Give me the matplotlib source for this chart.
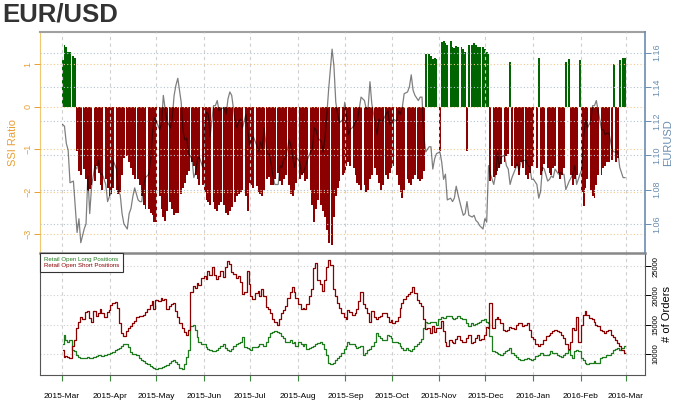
import pandas as pd
import numpy as np
import matplotlib
matplotlib.use('Agg')
import matplotlib.pyplot as plt
import matplotlib.dates as mdates
from matplotlib.lines import Line2D

plt.rcParams['font.family'] = ['Liberation Sans', 'DejaVu Sans']

# one row per trading week (sun evening -> fri), first week starts 2015-03-01
ssi = [
    [1.1, 1.45, 1.4, 1.3, 1.28], [1.2, 1.15, -1.05, -1.5, -1.6], [-1.47, -1.7, -1.97, -1.93, -1.85],
    [-1.75, -1.4, -1.55, -1.85, -1.95], [-1.7, -1.9, -2.1, -2.05, -1.9], [-1.95, -2.05, -2.0, -1.6, -1.2],
    [-1.15, -1.3, -1.45, -1.6, -1.7], [-1.7, -1.85, -2.1, -2.3, -2.4], [-2.4, -2.5, -2.55, -2.7, -2.72],
    [-2.1, -2.4, -2.6, -2.68, -2.45], [-2.25, -2.4, -2.55, -2.5, -2.5], [-2.05, -1.9, -1.8, -1.6, -1.5],
    [-1.3, -1.4, -1.6, -1.7, -1.85], [-1.85, -2.0, -2.2, -2.25, -2.3], [-2.25, -2.4, -2.45, -2.3, -2.25],
    [-2.3, -2.5, -2.55, -2.45, -2.35], [-2.25, -2.1, -2.05, -2.0, -1.95], [-2.1, -2.45, -1.8, -1.85, -1.9],
    [-1.87, -2.0, -2.05, -2.1, -1.95], [-1.7, -1.65, -1.85, -1.85, -1.7], [-1.55, -1.75, -1.85, -1.7, -1.6],
    [-1.85, -2.05, -2.1, -1.95, -1.8], [-1.7, -1.6, -1.55, -1.75, -1.7], [-1.95, -2.3, -2.7, -2.4, -2.2],
    [-2.3, -2.45, -2.6, -2.9, -3.2], [-3.25, -2.6, -2.1, -1.9, -1.75], [-1.6, -1.55, -1.4, -1.3, -1.4],
    [-1.45, -1.6, -1.8, -1.85, -1.95], [-1.85, -2.0, -1.95, -1.7, -1.6], [-1.45, -1.6, -1.8, -1.95, -1.85],
    [-1.6, -1.7, -1.55, -1.45, -1.4], [-1.6, -1.85, -2.0, -2.15, -1.95], [-1.7, -1.8, -1.85, -1.7, -1.6],
    [-1.7, -1.75, -1.7, -1.5, 1.25], [1.24, 1.2, 1.13, 1.15, 1.12], [-1.05, 1.52, 1.55, 1.5, 1.45],
    [1.55, 1.4, 1.38, 1.42, 1.4], [1.4, 1.35, 1.3, -1.05, 1.45], [1.45, 1.5, 1.45, 1.4, 1.4],
    [1.4, 1.35, 1.3, 1.25, -1.75], [-1.65, -1.6, -1.5, -1.45, -1.35], [-1.3, -1.15, -1.1, 1.05, -1.4],
    [-1.45, -1.4, -1.6, -1.3, -1.45], [-1.6, -1.7, -1.55, -1.4, -1.3], [-1.45, 1.15, -1.6, -1.5, -1.35],
    [-1.45, -1.55, -1.6, -1.45, -1.4], [-1.55, -1.7, -1.6, -1.45, 1.05], [1.12, -1.6, -1.85, -1.7, -1.6],
    [1.1, -2.0, -2.33, -1.9, -1.7], [-1.95, -2.1, -2.15, -1.85, -1.6], [-1.6, -1.45, -1.4, -1.3, -1.3],
    [-1.25, 1.0, -1.3, -1.2, 1.1], [1.15, 1.15],
]

eurusd = [
    [1.118, 1.117, 1.107, 1.103, 1.084], [1.085, 1.070, 1.055, 1.063, 1.049], [1.057, 1.060, 1.088, 1.066, 1.082],
    [1.094, 1.092, 1.097, 1.089, 1.089], [1.083, 1.073, 1.076, 1.078, 1.097], [1.092, 1.079, 1.077, 1.066, 1.060],
    [1.057, 1.066, 1.069, 1.076, 1.081], [1.074, 1.073, 1.073, 1.082, 1.087], [1.089, 1.098, 1.113, 1.122, 1.120],
    [1.115, 1.118, 1.135, 1.127, 1.120], [1.116, 1.122, 1.135, 1.141, 1.145], [1.131, 1.114, 1.109, 1.110, 1.101],
    [1.098, 1.087, 1.090, 1.098, 1.099], [1.093, 1.115, 1.125, 1.124, 1.111], [1.129, 1.129, 1.132, 1.126, 1.127],
    [1.128, 1.124, 1.133, 1.137, 1.135], [1.120, 1.116, 1.120, 1.121, 1.116], [1.124, 1.115, 1.106, 1.109, 1.111],
    [1.106, 1.102, 1.108, 1.104, 1.116], [1.100, 1.101, 1.095, 1.088, 1.083], [1.083, 1.094, 1.093, 1.098, 1.098],
    [1.109, 1.106, 1.099, 1.093, 1.099], [1.096, 1.089, 1.090, 1.093, 1.097], [1.102, 1.104, 1.116, 1.115, 1.110],
    [1.108, 1.102, 1.110, 1.124, 1.139], [1.162, 1.152, 1.131, 1.124, 1.119], [1.121, 1.131, 1.123, 1.112, 1.115],
    [1.117, 1.120, 1.120, 1.127, 1.134], [1.132, 1.127, 1.128, 1.143, 1.130], [1.119, 1.112, 1.121, 1.120, 1.120],
    [1.124, 1.126, 1.118, 1.120, 1.121], [1.120, 1.126, 1.124, 1.128, 1.136], [1.137, 1.140, 1.147, 1.138, 1.135],
    [1.132, 1.134, 1.134, 1.111, 1.102], [1.105, 1.105, 1.092, 1.098, 1.101], [1.102, 1.096, 1.086, 1.089, 1.074],
    [1.075, 1.073, 1.075, 1.082, 1.077], [1.069, 1.065, 1.066, 1.073, 1.065], [1.064, 1.065, 1.062, 1.061, 1.059],
    [1.057, 1.063, 1.061, 1.094, 1.089], [1.083, 1.089, 1.102, 1.093, 1.099], [1.100, 1.094, 1.092, 1.083, 1.087],
    [1.092, 1.095, 1.091, 1.096, 1.097], [1.097, 1.094, 1.093, 1.086, 1.086], [1.083, 1.075, 1.079, 1.093, 1.092],
    [1.085, 1.086, 1.088, 1.087, 1.092], [1.089, 1.090, 1.089, 1.089, 1.080], [1.085, 1.087, 1.089, 1.094, 1.083],
    [1.089, 1.092, 1.111, 1.121, 1.116], [1.120, 1.129, 1.129, 1.132, 1.126], [1.115, 1.115, 1.112, 1.113, 1.113],
    [1.103, 1.102, 1.102, 1.102, 1.093], [1.087, 1.087],
]

# retail open positions, thousands of orders
longs = [
    [11.6, 13.3, 12.4, 12.0, 12.4], [10.7, 10.4, 9.8, 9.5, 9.3], [9.3, 9.3, 9.4, 9.3, 9.3],
    [9.5, 9.7, 9.8, 9.8, 9.7], [9.8, 9.9, 10.0, 10.1, 10.3], [10.6, 10.8, 11.0, 11.3, 11.6],
    [11.7, 11.1, 10.3, 9.9, 10.0], [9.8, 9.3, 9.0, 8.7, 8.5], [8.3, 8.0, 7.7, 7.5, 7.4],
    [7.5, 7.6, 7.8, 7.9, 8.1], [8.4, 8.7, 9.0, 8.6, 8.3], [7.5, 7.4, 8.3, 9.5, 10.6],
    [14.7, 15.0, 14.1, 12.9, 12.1], [11.7, 11.6, 11.2, 10.9, 10.7], [10.5, 10.5, 10.7, 11.0, 11.3],
    [11.7, 11.0, 10.6, 10.4, 10.8], [11.4, 11.6, 11.8, 12.1, 12.9], [11.2, 11.0, 10.8, 10.7, 11.2],
    [11.2, 11.4, 11.7, 11.6, 11.3], [12.1, 12.9, 13.5, 13.8, 13.9], [13.8, 13.5, 13.1, 12.7, 12.1],
    [12.1, 12.4, 11.8, 12.1, 11.4], [12.0, 11.6, 11.3, 11.6, 10.8], [11.0, 11.2, 11.3, 11.6, 11.8],
    [12.0, 11.7, 10.8, 9.8, 8.5], [8.2, 8.5, 9.0, 9.3, 9.7], [10.1, 10.8, 11.4, 12.0, 11.6],
    [11.7, 11.4, 11.0, 11.2, 11.3], [9.8, 10.1, 10.6, 10.8, 11.3], [12.0, 13.6, 13.1, 12.7, 12.3],
    [12.4, 13.3, 13.1, 12.7, 12.1], [12.0, 11.8, 11.4, 11.0, 10.7], [11.0, 10.7, 10.4, 10.8, 11.4],
    [11.6, 12.0, 12.5, 14.4, 15.5], [15.3, 15.5, 15.5, 15.4, 15.0], [15.9, 16.3, 16.1, 16.2, 16.4],
    [16.4, 16.2, 15.9, 16.2, 16.4], [16.2, 16.0, 15.9, 15.3, 14.7], [15.2, 15.0, 15.1, 15.3, 15.4],
    [15.8, 15.9, 15.4, 15.2, 13.0], [10.4, 10.3, 10.1, 10.0, 9.8], [10.1, 10.4, 10.7, 11.0, 10.2],
    [9.8, 9.4, 9.2, 9.0, 9.0], [9.1, 9.3, 9.1, 9.0, 9.1], [9.7, 9.8, 10.1, 10.1, 9.8],
    [9.8, 10.0, 10.4, 10.2, 10.1], [9.8, 9.7, 9.5, 9.8, 10.2], [10.6, 9.8, 9.3, 10.4, 10.6],
    [10.4, 9.3, 8.9, 8.5, 8.2], [8.4, 8.5, 8.7, 8.5, 8.4], [9.3, 9.4, 9.5, 9.8, 9.8],
    [10.2, 10.6, 10.8, 11.0, 10.6], [11.0, 11.3],
]

shorts = [
    [10.7, 9.5, 9.7, 9.5, 9.3], [11.3, 12.4, 14.4, 15.4, 16.3], [16.0, 17.1, 17.3, 16.2, 15.5],
    [17.3, 16.4, 17.0, 17.6, 16.9], [16.3, 17.1, 17.5, 18.3, 18.7], [18.9, 17.9, 15.3, 13.6, 13.1],
    [13.9, 14.4, 14.8, 15.2, 15.6], [16.3, 16.4, 16.5, 16.7, 17.1], [17.7, 18.3, 19.0, 17.7, 19.2],
    [19.0, 19.6, 19.2, 19.3, 17.6], [18.2, 18.5, 18.7, 17.3, 16.3], [15.3, 14.4, 13.7, 13.3, 14.0],
    [20.5, 21.6, 21.2, 22.1, 21.8], [22.9, 23.3, 22.8, 24.2, 23.5], [24.8, 23.5, 22.8, 23.3, 24.2],
    [23.1, 24.8, 25.9, 25.4, 24.0], [23.6, 22.9, 23.3, 22.2, 20.3], [20.5, 24.2, 22.0, 19.9, 19.4],
    [20.4, 20.8, 19.9, 21.0, 19.9], [18.0, 17.6, 16.9, 16.0, 15.4], [15.0, 16.0, 16.9, 17.5, 18.2],
    [19.6, 20.5, 21.5, 20.5, 19.6], [18.5, 17.7, 17.9, 17.6, 18.6], [19.9, 21.0, 24.6, 25.6, 22.6],
    [21.9, 20.8, 22.6, 24.8, 26.1], [25.2, 21.0, 19.9, 18.7, 17.9], [16.9, 16.3, 16.0, 17.5, 17.1],
    [16.6, 16.9, 17.6, 19.0, 20.5], [18.6, 17.9, 16.9, 15.4, 17.3], [16.3, 16.0, 16.3, 16.4, 16.9],
    [17.0, 16.3, 15.4, 15.7, 15.2], [15.6, 16.3, 17.9, 18.7, 19.3], [19.9, 20.2, 20.6, 21.5, 20.4],
    [19.2, 18.7, 18.2, 15.9, 14.3], [14.4, 13.6, 14.7, 13.7, 14.4], [14.4, 15.6, 13.9, 12.1, 11.4],
    [12.4, 12.1, 11.8, 12.5, 13.1], [12.4, 12.0, 12.1, 12.7, 13.3], [11.8, 12.1, 12.7, 13.3, 12.4],
    [12.5, 13.3, 14.6, 14.4, 18.7], [14.4, 15.9, 16.3, 15.9, 15.3], [14.1, 13.9, 14.0, 14.6, 14.4],
    [14.3, 15.0, 15.2, 15.3, 14.8], [15.0, 15.3, 14.1, 12.9, 12.5], [11.6, 11.4, 11.7, 11.6, 12.3],
    [13.0, 13.3, 13.6, 13.9, 14.1], [13.9, 13.7, 13.3, 12.7, 11.6], [10.8, 12.1, 14.4, 14.1, 16.3],
    [12.1, 15.0, 16.6, 17.3, 16.7], [16.2, 15.9, 15.4, 15.0, 14.7], [14.1, 13.9, 13.6, 13.9, 14.0],
    [13.3, 12.9, 12.4, 11.8, 11.4], [10.6, 10.1],
]

orange = '#E8A035'
steel = '#6A8DB0'
bar_green = '#006400'
bar_red = '#8B0000'
line_green = '#1E7B1E'

# dates of each reading
t0 = pd.Timestamp('2015-03-01') - pd.Timedelta(hours=5)
dates = []
for w, wk in enumerate(ssi):
    for i in range(len(wk)):
        dates.append(t0 + pd.Timedelta(days=7 * w + 1.2 * i + 0.6))
x = mdates.date2num(dates)
ssi_v = np.array([v for wk in ssi for v in wk])
eur_v = np.array([v for wk in eurusd for v in wk])
long_v = np.array([v for wk in longs for v in wk]) * 1000
short_v = np.array([v for wk in shorts for v in wk]) * 1000

fig = plt.figure(figsize=(6.8, 4.05), dpi=100)
ax1 = fig.add_axes([40 / 680, 1 - 253 / 405, 605 / 680, 221 / 405])
ax3 = fig.add_axes([40 / 680, 1 - 375 / 405, 605 / 680, 122 / 405], sharex=ax1)

#### top panel: SSI bars + price
cols = [bar_green if v > 0 else bar_red for v in ssi_v]
ax1.bar(x, ssi_v, width=1.2, color=cols, linewidth=0)
ax1.set_ylim(-3.44, 1.76)
ax1.set_yticks([-3, -2, -1, 0, 1])
ax1.set_axisbelow(False)
ax1.grid(axis='y', color='#F2C98A', linestyle=(0, (1, 2)), linewidth=0.8)
ax1.grid(axis='x', color='#D0D0D0', linestyle=(0, (3, 3)), linewidth=0.8)
ax1.tick_params(axis='y', colors=orange, labelsize=6.5, length=4, width=0.7, labelrotation=90, pad=1.5)
for lab in ax1.get_yticklabels():
    lab.set_va('center')
ax1.tick_params(axis='x', bottom=False, labelbottom=False)
ax1.set_ylabel('SSI Ratio', color=orange, fontsize=8, labelpad=4)
ax1.spines['left'].set_color('#F0C870')
ax1.spines['top'].set_color('#A0A0A0')
ax1.spines['top'].set_linewidth(1.5)
ax1.spines['right'].set_visible(False)
ax1.spines['bottom'].set_visible(False)

ax2 = ax1.twinx()
ax2.plot(x, eur_v, color='black', alpha=0.5, linewidth=0.9)
ax2.set_ylim(1.043, 1.172)
ax2.set_yticks([1.06, 1.08, 1.10, 1.12, 1.14, 1.16])
ax2.set_yticklabels(['1.06', '1.08', '1.10', '1.12', '1.14', '1.16'])
ax2.grid(axis='y', color='#B4C2D0', linestyle=(0, (1, 2)), linewidth=0.8)
ax2.tick_params(axis='y', colors=steel, labelsize=6.5, length=4, width=0.7, labelrotation=90, pad=1.5)
for lab in ax2.get_yticklabels():
    lab.set_va('center')
ax2.set_ylabel('EURUSD', color=steel, fontsize=8, labelpad=1)
ax2.spines['right'].set_color(steel)
ax2.spines['right'].set_linewidth(1.2)
ax2.spines['left'].set_visible(False)
ax2.spines['top'].set_visible(False)
ax2.spines['bottom'].set_visible(False)

#### bottom panel: open positions
ax3.plot(x, long_v, color=line_green, linewidth=0.9, drawstyle='steps-mid')
ax3.plot(x, short_v, color=bar_red, linewidth=0.9, drawstyle='steps-mid')
ax3.set_ylim(6380, 27240)
ax3.yaxis.tick_right()
ax3.yaxis.set_label_position('right')
ax3.set_yticks([10000, 15000, 20000, 25000])
ax3.set_yticklabels(['10000', '15000', '20000', '25000'])
ax3.tick_params(axis='y', labelsize=5.5, length=4, width=0.7, labelrotation=90, pad=1.5)
for lab in ax3.get_yticklabels():
    lab.set_va('center')
ax3.set_ylabel('# of Orders', fontsize=8, labelpad=2)
ax3.grid(axis='y', color='#D0D0D0', linestyle=(0, (1, 2)), linewidth=0.8)
ax3.grid(axis='x', color='#D0D0D0', linestyle=(0, (3, 3)), linewidth=0.8)
ax3.xaxis.set_major_locator(mdates.MonthLocator())
ax3.xaxis.set_major_formatter(mdates.DateFormatter('%Y-%b'))
ax3.tick_params(axis='x', labelsize=6, length=4, width=0.8, color='#3C8A3C', pad=9)
for sp in ax3.spines.values():
    sp.set_color('#555555')
ax3.spines['top'].set_color('#888888')
ax3.spines['top'].set_linewidth(1.8)

ax1.set_xlim(mdates.date2num(pd.Timestamp('2015-03-01') - pd.Timedelta(days=14.3)),
             mdates.date2num(pd.Timestamp('2016-03-01') + pd.Timedelta(days=12.6)))

handles = [Line2D([], [], color='none'), Line2D([], [], color='none')]
leg = ax3.legend(handles, ['Retail Open Long Positions', 'Retail Open Short Positions'],
                 loc='upper left', fontsize=4.4, handlelength=0, handletextpad=0,
                 labelcolor=[line_green, bar_red], fancybox=False, edgecolor='#333333',
                 borderaxespad=0, borderpad=0.6, labelspacing=0.1, framealpha=1)
leg.get_frame().set_linewidth(0.8)

fig.text(0.003, 0.995, 'EUR/USD', ha='left', va='top', fontsize=18.5,
         fontweight='bold', color='#333333')

fig.savefig('out.png', dpi=100)
